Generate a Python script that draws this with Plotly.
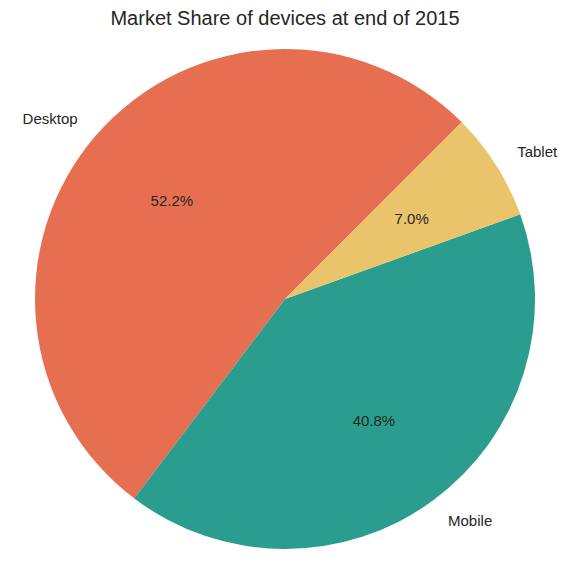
import numpy as np
import plotly.graph_objects as go

devices = ["Desktop", "Mobile", "Tablet"]
share = [52.2, 40.8, 7.0]
colors = ["#e76f51", "#2a9d8f", "#e9c46a"]

W, H = 572, 579
CX, CY, R = 277, 291, 275  # polar centre / outer radius in px (page has an 8px body margin)
START = 45  # like matplotlib startangle

vals = np.array(share)
widths = 360 * vals / vals.sum()
mids = START + np.cumsum(widths) - widths / 2
sides = ["middle right" if np.cos(np.radians(m)) > 0 else "middle left" for m in mids]
txt = dict(size=15, color="#262626")


def polar_dom(cy):
    return dict(x=[(CX - R) / W, (CX + R) / W], y=[1 - (cy + R) / H, 1 - (cy - R) / H])


hidden = dict(
    bgcolor="rgba(0,0,0,0)", bargap=0, hole=0,
    radialaxis=dict(range=[0, 1.1], visible=False),
    angularaxis=dict(visible=False, rotation=0, direction="counterclockwise"),
)

fig = go.Figure()
# wedges
fig.add_trace(go.Barpolar(
    r=[1] * len(devices), theta=mids, width=widths, base=0,
    marker=dict(color=colors, line=dict(width=0)),
    customdata=share, text=devices, hovertemplate="%{text}: %{customdata:.1f}%<extra></extra>",
    showlegend=False,
))
# percentages at 0.6 r (text sits in a copy of the polar nudged 2px down)
fig.add_trace(go.Scatterpolar(
    r=[0.6] * len(devices), theta=mids, mode="text", subplot="polar2",
    text=[f"{v:.1f}%" for v in share], textposition="middle center", textfont=txt,
    cliponaxis=False, showlegend=False, hoverinfo="skip",
))
# names at 1.1 r
fig.add_trace(go.Scatterpolar(
    r=[1.1] * len(devices), theta=mids, mode="text", subplot="polar2",
    text=devices, textposition=sides, textfont=txt,
    cliponaxis=False, showlegend=False, hoverinfo="skip",
))
fig.update_layout(
    width=W, height=H,
    margin=dict(l=0, r=0, t=0, b=0),
    paper_bgcolor="white",
    font=dict(family="Liberation Sans, Arial", color="#262626"),
    title=dict(text="Market Share of devices at end of 2015", x=CX / W, xanchor="center",
               y=1 - 3 / H, yanchor="top", font=dict(size=20, color="#262626")),
    polar=dict(domain=polar_dom(CY), **hidden),
    polar2=dict(domain=polar_dom(CY + 2), **hidden),
)
fig.write_html("out.html")
